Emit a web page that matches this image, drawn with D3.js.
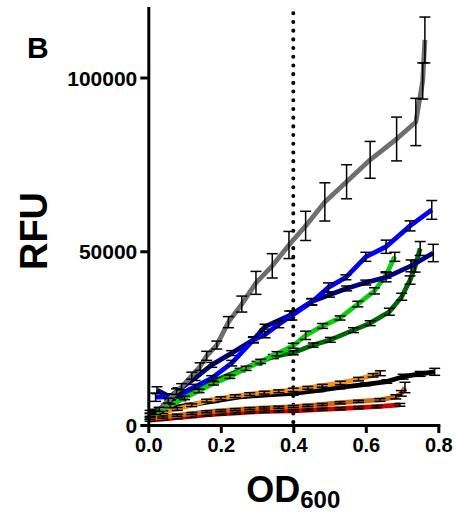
<!DOCTYPE html>
<html>
<head>
<meta charset="utf-8">
<script src="https://cdn.jsdelivr.net/npm/d3@7"></script>
<style>
  body { margin: 0; background: #fff; }
  text { font-family: "Liberation Sans", Arial, sans-serif; font-weight: bold; }
</style>
</head>
<body>
<div id="chart"></div>
<script>
// OD600 (x), RFU (y) and error (+/-) for each strain
var grayOD  = [0.03, 0.055, 0.078, 0.092, 0.120, 0.143, 0.161, 0.189, 0.221, 0.258, 0.297, 0.342, 0.388, 0.434, 0.487, 0.547, 0.612, 0.685, 0.738, 0.757, 0.763];
var grayRFU = [4500, 7000, 9600, 11000, 14200, 16800, 19900, 23000, 29600, 34800, 40900, 45800, 51800, 57300, 64200, 70000, 76300, 82300, 87200, 99000, 110800];
var grayErr = [600, 700, 800, 900, 1000, 1100, 1300, 1150, 1600, 2300, 3300, 3500, 3900, 4200, 5500, 4900, 5300, 6300, 6800, 5200, 6600];

var blueOD  = [0.02, 0.06, 0.082, 0.129, 0.175, 0.23, 0.29, 0.322, 0.36, 0.396, 0.451, 0.497, 0.545, 0.600, 0.656, 0.722, 0.782];
var blueRFU = [8000, 8100, 8600, 11000, 13500, 17800, 24500, 26000, 29000, 31500, 35400, 39600, 42500, 48400, 51300, 57300, 61900];
var blueErr = [1200, 900, 800, 700, 700, 800, 900, 900, 1000, 1300, 900, 1300, 700, 1300, 1900, 1450, 2700];

var navyOD  = [0.024, 0.06, 0.082, 0.129, 0.175, 0.23, 0.29, 0.322, 0.39, 0.451, 0.5, 0.547, 0.6, 0.656, 0.725, 0.786];
var navyRFU = [10000, 8100, 10000, 13500, 17300, 20700, 24500, 28300, 31500, 35500, 37500, 39300, 41000, 42500, 45800, 49500];
var navyErr = [1000, 900, 700, 700, 700, 700, 700, 700, 1300, 900, 700, 700, 700, 1300, 1700, 2500];

var lgreenOD  = [0.02, 0.06, 0.10, 0.14, 0.18, 0.225, 0.27, 0.31, 0.355, 0.40, 0.434, 0.481, 0.529, 0.578, 0.624, 0.656, 0.68];
var lgreenRFU = [3500, 5500, 7800, 9800, 12000, 13900, 16300, 18300, 20500, 22800, 25800, 28500, 30800, 34800, 38600, 43200, 48400];
var lgreenErr = [500, 500, 500, 500, 500, 500, 600, 600, 600, 700, 1200, 700, 600, 800, 900, 900, 1300];

var dgreenOD  = [0.02, 0.05, 0.09, 0.134, 0.189, 0.253, 0.30, 0.345, 0.40, 0.455, 0.502, 0.566, 0.612, 0.665, 0.699, 0.722, 0.736, 0.75];
var dgreenRFU = [4000, 5500, 7500, 10100, 13000, 15800, 17800, 19700, 20800, 23000, 24500, 27300, 29300, 32600, 36900, 41700, 45600, 50800];
var dgreenErr = [500, 500, 500, 500, 500, 500, 500, 600, 600, 600, 700, 700, 700, 1000, 1000, 1200, 1600, 2000];

var orangeOD  = [0.005, 0.04, 0.08, 0.12, 0.161, 0.20, 0.24, 0.28, 0.32, 0.36, 0.40, 0.44, 0.48, 0.53, 0.58, 0.62, 0.64];
var orangeRFU = [2900, 3700, 4600, 5700, 7000, 7700, 8300, 8900, 9300, 9700, 10100, 10700, 11300, 12100, 13200, 14300, 14900];
var orangeErr = [400, 400, 400, 400, 400, 400, 400, 400, 400, 400, 500, 400, 400, 500, 500, 500, 700];

var blackOD  = [0.005, 0.05, 0.115, 0.18, 0.253, 0.33, 0.40, 0.47, 0.529, 0.6, 0.658, 0.703, 0.75, 0.79];
var blackRFU = [3800, 4700, 5800, 6900, 8100, 8700, 9100, 10000, 10800, 11700, 12500, 13900, 14700, 15300];
var blackErr = [400, 400, 400, 400, 400, 400, 500, 400, 400, 400, 500, 700, 700, 1000];

var brownOD  = [0.005, 0.04, 0.08, 0.12, 0.161, 0.20, 0.24, 0.28, 0.32, 0.36, 0.40, 0.44, 0.48, 0.529, 0.58, 0.639, 0.683, 0.698, 0.708];
var brownRFU = [1900, 2300, 2800, 3300, 3800, 4100, 4400, 4700, 4900, 5100, 5300, 5600, 5900, 6400, 6800, 7200, 8100, 9100, 10800];
var brownErr = [300, 300, 300, 300, 300, 300, 300, 300, 300, 300, 300, 300, 300, 300, 300, 400, 600, 800, 1500];

var redOD  = [0.005, 0.04, 0.08, 0.12, 0.161, 0.20, 0.24, 0.28, 0.32, 0.36, 0.40, 0.44, 0.48, 0.529, 0.58, 0.63, 0.694];
var redRFU = [1400, 1700, 2100, 2500, 2900, 3200, 3400, 3700, 3900, 4000, 4100, 4300, 4500, 4700, 5000, 5300, 5800];
var redErr = [300, 300, 300, 300, 300, 300, 300, 300, 300, 300, 300, 300, 300, 300, 300, 300, 400];

var xTicks = [0, 0.2, 0.4, 0.6, 0.8];
var yTicks = [0, 50000, 100000];

// drawing order: bottom ones first
var series = [
  {od: redOD, rfu: redRFU, err: redErr, color: "#cc0000"},
  {od: brownOD, rfu: brownRFU, err: brownErr, color: "#cc6a10"},
  {od: blackOD, rfu: blackRFU, err: blackErr, color: "#000000"},
  {od: orangeOD, rfu: orangeRFU, err: orangeErr, color: "#f5901e"},
  {od: dgreenOD, rfu: dgreenRFU, err: dgreenErr, color: "#006a00"},
  {od: lgreenOD, rfu: lgreenRFU, err: lgreenErr, color: "#10cc10"},
  {od: navyOD, rfu: navyRFU, err: navyErr, color: "#000080"},
  {od: blueOD, rfu: blueRFU, err: blueErr, color: "#0000ff"},
  {od: grayOD, rfu: grayRFU, err: grayErr, color: "#6e6e6e"}
];

var width = 456, height = 516;

var svg = d3.select("#chart")
  .append("svg")
    .attr("width", width)
    .attr("height", height);

var x = d3.scaleLinear().domain([0, 0.8]).range([148.3, 438.3]);
var y = d3.scaleLinear().domain([0, 120000]).range([425, 8]);

// dotted line at OD 0.4
svg.append("line")
  .attr("x1", x(0.4)).attr("x2", x(0.4))
  .attr("y1", y(118500)).attr("y2", y(0))
  .attr("stroke", "#000")
  .attr("stroke-width", 4)
  .attr("stroke-linecap", "round")
  .attr("stroke-dasharray", "0.1 8.6");

var line = d3.line()
  .x(function(d) { return x(d[0]); })
  .y(function(d) { return y(d[1]); });

series.forEach(function(s) {
  var pts = s.od.map(function(v, i) { return [v, s.rfu[i], s.err[i]]; });

  svg.append("path")
    .datum(pts)
    .attr("d", line)
    .attr("fill", "none")
    .attr("stroke", s.color)
    .attr("stroke-width", 4.8)
    .attr("stroke-linejoin", "round");

  var eb = svg.append("g")
    .attr("stroke", "#000")
    .attr("stroke-width", 1.5);

  pts.forEach(function(p) {
    var cx = x(p[0]), hi = y(p[1] + p[2]), lo = y(p[1] - p[2]);
    eb.append("line").attr("x1", cx).attr("x2", cx).attr("y1", hi).attr("y2", lo);
    eb.append("line").attr("x1", cx - 5.5).attr("x2", cx + 5.5).attr("y1", hi).attr("y2", hi);
    eb.append("line").attr("x1", cx - 5.5).attr("x2", cx + 5.5).attr("y1", lo).attr("y2", lo);
  });
});

// axes
var yAxis = svg.append("g")
  .attr("transform", "translate(" + x(0) + ",0)")
  .call(d3.axisLeft(y).tickValues(yTicks).tickFormat(d3.format("d")).tickSize(8).tickSizeOuter(0).tickPadding(3));

var xAxis = svg.append("g")
  .attr("transform", "translate(0," + y(0) + ")")
  .call(d3.axisBottom(x).tickValues(xTicks).tickFormat(d3.format(".1f")).tickSize(8).tickSizeOuter(0).tickPadding(5));

[yAxis, xAxis].forEach(function(a) {
  a.select(".domain").attr("stroke-width", 3).attr("stroke-linecap", "square");
  a.selectAll(".tick line").attr("stroke-width", 3);
  a.selectAll(".tick text").attr("fill", "#000").style("font-weight", "bold")
    .style("font-family", '"Liberation Sans", Arial, sans-serif');
});
yAxis.selectAll(".tick text").style("font-size", "21px").attr("dy", "0.36em");
xAxis.selectAll(".tick text").style("font-size", "20px");

// labels
svg.append("text")
  .attr("x", 27).attr("y", 58)
  .style("font-size", "30px")
  .text("B");

svg.append("text")
  .attr("transform", "translate(47,231) rotate(-90)")
  .attr("text-anchor", "middle")
  .style("font-size", "38px")
  .text("RFU");

var od = svg.append("text")
  .attr("x", x(0.4)).attr("y", 502)
  .attr("text-anchor", "middle")
  .style("font-size", "36px");
od.append("tspan").text("OD");
od.append("tspan").attr("dy", 6).style("font-size", "24px").text("600");
</script>
</body>
</html>
